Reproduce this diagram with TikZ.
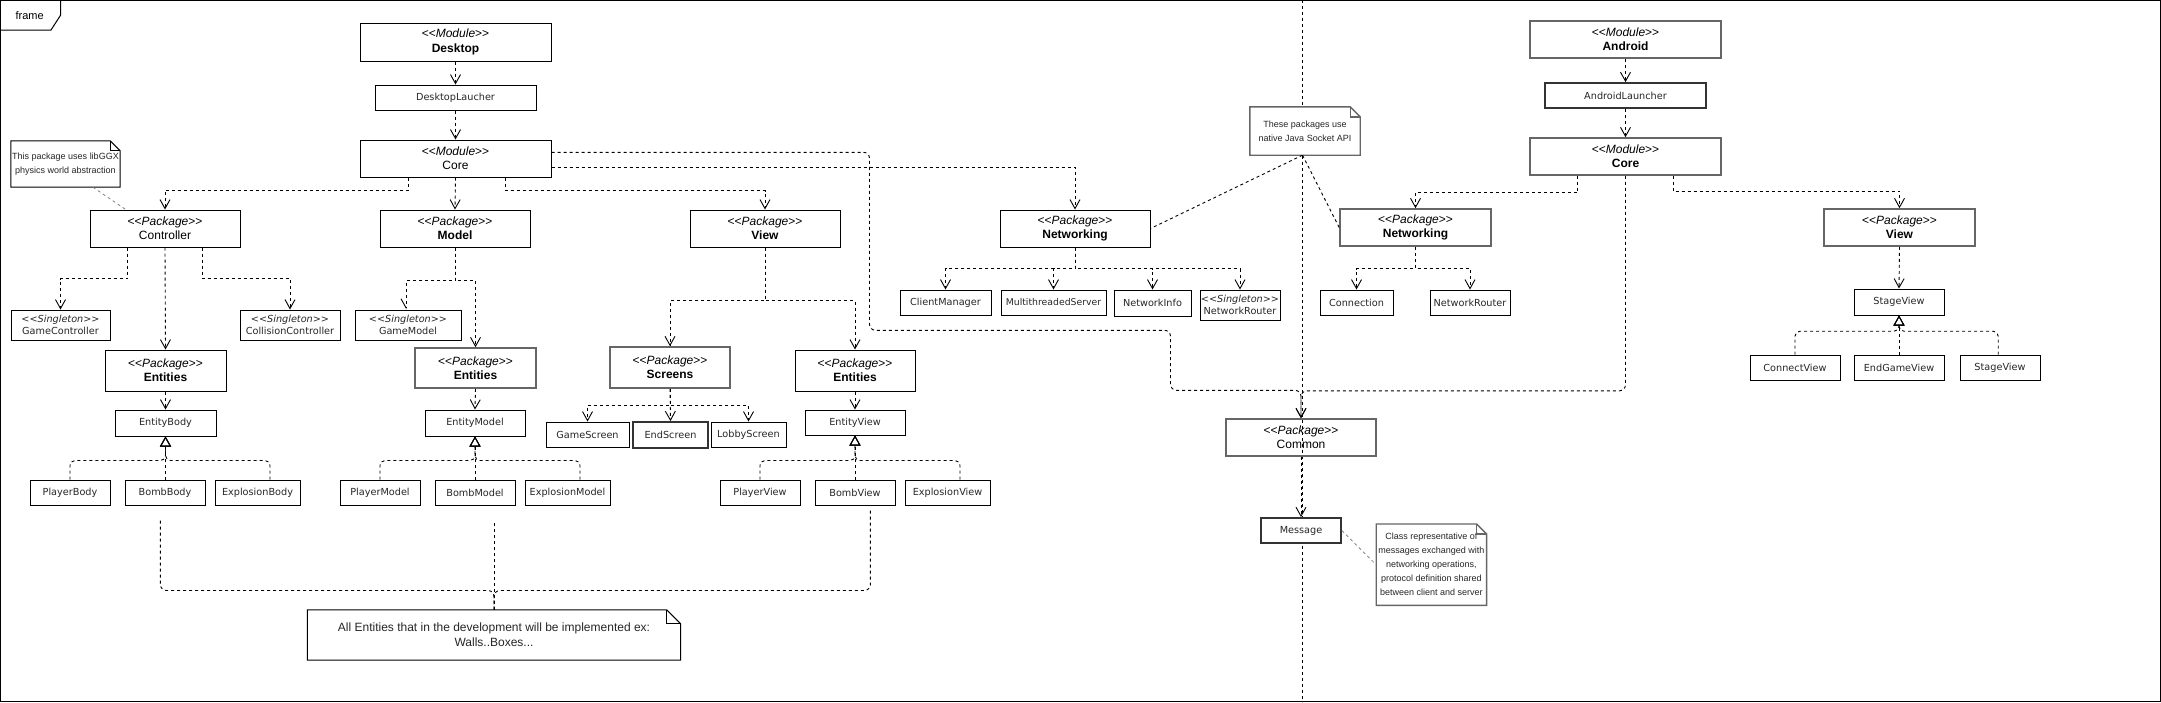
\documentclass[tikz,border=0pt]{standalone}
\usepackage{fontspec}
\setmainfont{Liberation Sans}
\newfontfamily\clsf{DejaVu Sans}
\usetikzlibrary{arrows.meta}
\newcommand\stereo[1]{<\kern0pt<\textit{#1}>\kern0pt>}
\newcommand\notefold[3]{%
  \draw[#3] (#1.south west) -- (#1.north west) -- ([xshift=-#2pt]#1.north east) -- ([yshift=-#2pt]#1.north east) -- (#1.south east) -- cycle;
  \draw[#3] ([xshift=-#2pt]#1.north east) -- ([xshift=-#2pt,yshift=-#2pt]#1.north east) -- ([yshift=-#2pt]#1.north east);}
\tikzset{
  bw/.style={minimum width=#1pt},
  bh/.style={minimum height=#1pt},
  base/.style={draw, line width=1pt, inner sep=0pt, align=center},
  pkg/.style={base, font=\fontsize{12}{14.4}\selectfont},
  cls/.style={base, text=black!85, font=\clsf\fontsize{9.7}{11.7}\selectfont},
  graybox/.style={draw=black!60, line width=1.6pt},
  darkbox/.style={draw=black!80, line width=1.8pt},
  notebox/.style={inner sep=0pt, align=center, fill=white, text=black!85, font=\fontsize{9}{14}\selectfont},
  dep/.style={draw, line width=0.9pt, dash pattern=on 3pt off 3pt, -{Straight Barb[length=9pt,width=10pt,line width=0.9pt]}},
  halfdep/.style={draw, line width=0.9pt, dash pattern=on 3pt off 3pt, -{Straight Barb[length=9pt,width=10pt,line width=0.9pt,right]}},
  real/.style={draw, line width=0.9pt, dash pattern=on 3pt off 3pt, -{Triangle[open,length=10pt,width=11pt,line width=0.9pt]}},
  link/.style={draw, line width=0.9pt, dash pattern=on 3pt off 3pt},
  faint/.style={draw=black!55, line width=0.7pt, dash pattern=on 3pt off 3pt},
  outline/.style={draw, line width=1pt},
  grayoutline/.style={draw=black!60, line width=1.4pt},
}
\begin{document}
\begin{tikzpicture}[x=1pt,y=-1pt]
\useasboundingbox (0,0) rectangle (2161,702);
% frame
\draw[line width=1pt] (0.5,0.5) rectangle (2160.5,701.5);
\draw[line width=1pt] (0.5,30) -- (51,30) -- (60.7,15) -- (60.7,0.5);
\node[font=\fontsize{11}{13}\selectfont] (framelbl) at (29.6,16) {frame};
% separator
\coordinate (septop) at (1302.5,0);
\coordinate (sepbot) at (1302.5,702);
\draw[link] (septop) -- (sepbot);

% ---------- desktop side ----------
\node[pkg, bw=191, bh=38] (desk) at (455.5,42) {\stereo{Module}\\\textbf{Desktop}};
\node[cls, bw=161, bh=25] (deskL) at (455.5,97.5) {DesktopLaucher};
\node[pkg, bw=191, bh=37] (core1) at (455.5,158.5) {\stereo{Module}\\Core};

\node[pkg, bw=150, bh=37] (ctrl) at (165,228.5) {\stereo{Package}\\Controller};
\node[pkg, bw=150, bh=37] (model) at (455,228.5) {\stereo{Package}\\\textbf{Model}};
\node[pkg, bw=150, bh=37] (view1) at (765,228.5) {\stereo{Package}\\\textbf{View}};
\node[pkg, bw=150, bh=37] (net1) at (1075,228.5) {\stereo{Package}\\\textbf{Networking}};

\node[cls, bw=99, bh=30] (gctrl) at (60.5,325) {\stereo{Singleton}\\GameController};
\node[cls, bw=100, bh=30] (cctrl) at (290,325) {\stereo{Singleton}\\CollisionController};
\node[cls, bw=106, bh=30] (gmodel) at (408,325) {\stereo{Singleton}\\GameModel};

\node[pkg, bw=121, bh=41] (ent1) at (165.5,370.5) {\stereo{Package}\\\textbf{Entities}};
\node[pkg, graybox, bw=121, bh=40] (ent2) at (475.5,368) {\stereo{Package}\\\textbf{Entities}};
\node[pkg, graybox, bw=120, bh=41] (screens) at (670,367.5) {\stereo{Package}\\\textbf{Screens}};
\node[pkg, bw=120, bh=41] (ent3) at (855,370.5) {\stereo{Package}\\\textbf{Entities}};

\node[cls, bw=101, bh=26] (ebody) at (165.5,423) {EntityBody};
\node[cls, bw=100, bh=26] (emodel) at (475,423) {EntityModel};
\node[cls, bw=100, bh=25] (eview) at (855,422.5) {EntityView};

\node[cls, bw=83, bh=25] (gscreen) at (587.5,434.5) {GameScreen};
\node[cls, darkbox, bw=75, bh=26] (escreen) at (670.5,435) {EndScreen};
\node[cls, bw=75, bh=25] (lscreen) at (748.5,434.5) {LobbyScreen};

\node[cls, bw=80, bh=25] (pbody) at (70,492.5) {PlayerBody};
\node[cls, bw=80, bh=25] (bbody) at (165,492.5) {BombBody};
\node[cls, bw=85, bh=25] (xbody) at (257.5,492.5) {ExplosionBody};
\node[cls, bw=80, bh=25] (pmodel) at (380,492.5) {PlayerModel};
\node[cls, bw=80, bh=25] (bmodel) at (475,492.5) {BombModel};
\node[cls, bw=85, bh=25] (xmodel) at (567.5,492.5) {ExplosionModel};
\node[cls, bw=80, bh=25] (pview) at (760,492.5) {PlayerView};
\node[cls, bw=80, bh=25] (bview) at (855,492.5) {BombView};
\node[cls, bw=85, bh=25] (xview) at (947.5,492.5) {ExplosionView};

\node[cls, bw=91, bh=25] (cmgr) at (945.5,302.5) {ClientManager};
\node[cls, bw=105, bh=25, font=\clsf\fontsize{9.3}{11.7}\selectfont] (mts) at (1053.5,302.5) {MultithreadedServer};
\node[cls, bw=77, bh=26] (ninfo) at (1152.5,303) {NetworkInfo};
\node[cls, bw=80, bh=30] (nrouter1) at (1240,305) {\stereo{Singleton}\\NetworkRouter};

% ---------- common ----------
\node[pkg, graybox, bw=150, bh=37] (common) at (1301,437.5) {\stereo{Package}\\Common};
\node[cls, darkbox, fill=white, bw=80, bh=25] (msg) at (1301,530.5) {Message};

% ---------- android side ----------
\node[pkg, graybox, bw=191, bh=37] (android) at (1625.5,39.5) {\stereo{Module}\\\textbf{Android}};
\node[cls, darkbox, bw=161, bh=25] (aL) at (1625.5,95.5) {AndroidLauncher};
\node[pkg, graybox, bw=191, bh=37] (core2) at (1625.5,156.5) {\stereo{Module}\\\textbf{Core}};
\node[pkg, graybox, bw=151, bh=37] (net2) at (1415.5,227.5) {\stereo{Package}\\\textbf{Networking}};
\node[pkg, graybox, bw=151, bh=37] (view2) at (1899.5,227.5) {\stereo{Package}\\\textbf{View}};
\node[cls, bw=73, bh=25] (conn) at (1356.5,302.5) {Connection};
\node[cls, bw=80, bh=25] (nrouter2) at (1470,302.5) {NetworkRouter};
\node[cls, bw=90, bh=26] (sview) at (1899,302) {StageView};
\node[cls, bw=90, bh=25] (cview) at (1795,367.5) {ConnectView};
\node[cls, bw=90, bh=25] (egview) at (1899,367.5) {EndGameView};
\node[cls, bw=80, bh=25] (sview2) at (2000,367.5) {StageView};

% ---------- notes ----------
\node[notebox, bw=109, bh=46] (note1) at (65.5,164) {This package uses libGGX\\physics world abstraction};
\notefold{note1}{10}{outline}
\node[notebox, bw=110, bh=48] (note2) at (1305,131) {These packages use\\native Java Socket API};
\notefold{note2}{10}{grayoutline}
\node[notebox, bw=110, bh=81] (note3) at (1431.4,564.7) {Class representative of\\messages exchanged with\\networking operations,\\protocol definition shared\\between client and server};
\notefold{note3}{10}{grayoutline}
\node[notebox, bw=373, bh=50, font=\fontsize{12}{14.7}\selectfont] (note4) at (494,635) {All Entities that in the development will be implemented ex:\\Walls..Boxes...};
\notefold{note4}{14}{outline}

% ---------- connectors: desktop ----------
\draw[dep] (desk.south) -- (deskL.north);
\draw[dep] (deskL.south) -- (core1.north);
\draw[dep] ([xshift=-47.3pt]core1.south) -- ++(0,13) -| (ctrl.north);
\draw[dep] (core1.south) -- (model.north);
\draw[dep] ([xshift=50.2pt]core1.south) -- ++(0,13) -| (view1.north);
\draw[dep] ([yshift=-9.2pt]core1.east) -| (net1.north);
\draw[dep, rounded corners=6pt] ([yshift=6.2pt]core1.east) -- ++(318,0) -- ++(0,178) -- ++(301,0) -- ++(0,60) -| (common.north);

\draw[dep] ([xshift=-37.1pt]ctrl.south) -- ++(0,31) -| (gctrl.north);
\draw[dep] (ctrl.south) -- (ent1.north);
\draw[dep] ([xshift=37.9pt]ctrl.south) -- ++(0,31) -| (cctrl.north);

\draw[halfdep] (model.south) -- ++(0,33) -| ([xshift=-2pt]gmodel.north);
\draw[dep] (model.south) -- ++(0,33) -| (ent2.north);

\draw[dep] (view1.south) -- ++(0,53) -| (screens.north);
\draw[dep] (view1.south) -- ++(0,53) -| (ent3.north);

\draw[dep] (screens.south) -- ++(0,17) -| (gscreen.north);
\draw[dep] (screens.south) -- (escreen.north);
\draw[dep] (screens.south) -- ++(0,17) -| (lscreen.north);

\draw[dep] (ent1.south) -- (ebody.north);
\draw[dep] (ent2.south) -- (emodel.north);
\draw[dep] (ent3.south) -- (eview.north);

\draw[real, rounded corners=5pt] (pbody.north) |- ([yshift=-24pt]ebody.south) -- (ebody.south);
\draw[real] (ebody.south |- bbody.north) -- (ebody.south);
\draw[real, rounded corners=5pt] ([xshift=12.5pt]xbody.north) |- ([yshift=-24pt]ebody.south) -- (ebody.south);

\draw[real, rounded corners=5pt] (pmodel.north) |- ([yshift=-24pt]emodel.south) -- (emodel.south);
\draw[real] (bmodel.north) -- (emodel.south);
\draw[real, rounded corners=5pt] ([xshift=12.5pt]xmodel.north) |- ([yshift=-24pt]emodel.south) -- (emodel.south);

\draw[real, rounded corners=5pt] (pview.north) |- ([yshift=-25pt]eview.south) -- (eview.south);
\draw[real] (bview.north) -- (eview.south);
\draw[real, rounded corners=5pt] ([xshift=12.5pt]xview.north) |- ([yshift=-25pt]eview.south) -- (eview.south);

\draw[dep] (net1.south) -- ++(0,21) -| (cmgr.north);
\draw[dep] (net1.south) -- ++(0,21) -| (mts.north);
\draw[dep] (net1.south) -- ++(0,21) -| (ninfo.north);
\draw[dep] (net1.south) -- ++(0,21) -| (nrouter1.north);

% note links
\draw[faint] ([xshift=27.4pt]note1.south) -- ([xshift=-39.3pt]ctrl.north);
\draw[link] ([xshift=-2.5pt]note2.south) -- (net1.east);
\draw[link] ([xshift=-2.5pt]note2.south) -- (net2.west);
\draw[faint] (msg.east) -- (note3.west);
\draw[link, rounded corners=6pt] ([xshift=-4.6pt,yshift=-15pt]bbody.south) -- ++(0,70) -| (note4.north);
\draw[link] ([xshift=19pt,yshift=-17.7pt]bmodel.south) -- (note4.north);
\draw[link, rounded corners=6pt] ([xshift=15.4pt,yshift=-5pt]bview.south) -- ++(0,80) -| (note4.north);

% ---------- common ----------
\draw[dep] (common.south) -- (msg.north);

% ---------- connectors: android ----------
\draw[dep] (android.south) -- (aL.north);
\draw[dep] (aL.south) -- (core2.north);
\draw[dep] ([xshift=-47.6pt]core2.south) -- ++(0,16.7) -| (net2.north);
\draw[dep] ([xshift=47.5pt]core2.south) -- ++(0,15.3) -| (view2.north);
\draw[dep, rounded corners=6pt] (core2.south) -- ++(0,215) -| (common.north);
\draw[dep] (net2.south) -- ++(0,21.7) -| (conn.north);
\draw[dep] (net2.south) -- ++(0,21.7) -| (nrouter2.north);
\draw[dep] (view2.south) -- (sview.north);
\draw[real, rounded corners=5pt] (cview.north) |- ([yshift=-15.7pt]sview.south) -- (sview.south);
\draw[real] (egview.north) -- (sview.south);
\draw[real, rounded corners=5pt] ([xshift=-1.8pt]sview2.north) |- ([yshift=-15.7pt]sview.south) -- (sview.south);
\end{tikzpicture}
\end{document}
